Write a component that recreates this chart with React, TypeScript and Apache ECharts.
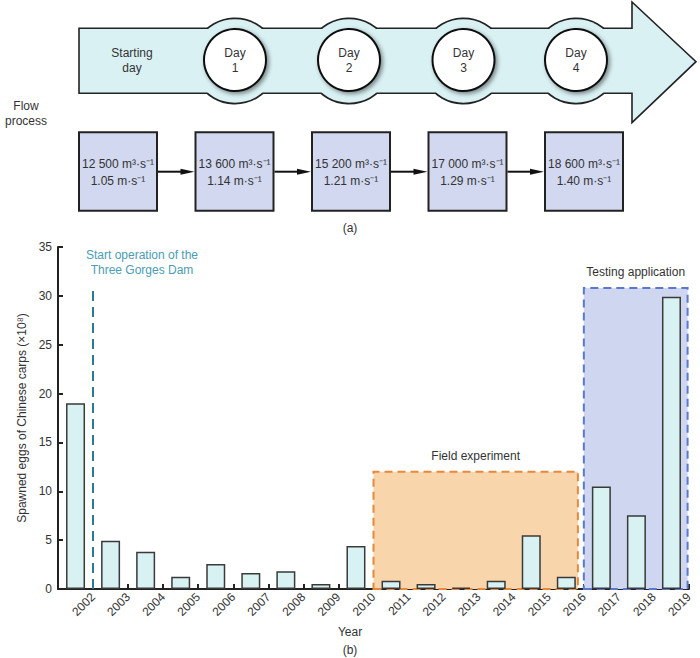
import React, { useEffect, useRef } from "react";
import * as echarts from "echarts";

// ---- data ----
const years = [2002, 2003, 2004, 2005, 2006, 2007, 2008, 2009, 2010, 2011, 2012, 2013, 2014, 2015, 2016, 2017, 2018, 2019];
const eggs = [19.0, 4.95, 3.8, 1.26, 2.56, 1.64, 1.81, 0.51, 4.4, 0.85, 0.5, 0.13, 0.85, 5.5, 1.26, 10.5, 7.55, 29.9];
const dayLabels = ["Starting\nday", "Day\n1", "Day\n2", "Day\n3", "Day\n4"];
const discharges = ["12 500", "13 600", "15 200", "17 000", "18 600"];
const velocities = ["1.05", "1.14", "1.21", "1.29", "1.40"];
const damYear = 2002;
const fieldPeriod = [2010, 2015.83];
const fieldTop = 12;
const testPeriod = [2016, 2018.96];
const testTop = 30.8;

const FONT = "'Liberation Sans', Arial, Helvetica, sans-serif";
const TXT = "#333";

function txt(text: string, x: number, y: number, extra: any = {}) {
  return {
    type: "text",
    z: 100,
    style: {
      text,
      x,
      y,
      fill: extra.fill || TXT,
      fontSize: extra.fontSize || 12,
      fontFamily: FONT,
      lineHeight: extra.lineHeight || 15,
      align: "center",
      verticalAlign: "middle",
      textAlign: "center",
      textVerticalAlign: "middle",
    },
  };
}

function buildGraphic() {
  const g: any[] = [];
  const cy = 61;
  const haloR = 42;
  const circR = 31;
  const circX = [235, 349, 463.5, 576];
  const cyan = "#d9f1f3";
  const dark = "#222";
  // halos with stroke
  circX.forEach((cx) => {
    g.push({ type: "circle", z: 10, shape: { cx, cy, r: haloR }, style: { fill: cyan, stroke: dark, lineWidth: 3 } });
  });
  // arrow body + head
  g.push({
    type: "polygon",
    z: 11,
    shape: {
      points: [
        [79, 28.3], [632, 28.3], [632, 2], [696, 61.7], [632, 122.7], [632, 93.3], [79, 93.3],
      ],
    },
    style: { fill: cyan, stroke: dark, lineWidth: 1.6 },
  });
  // halos fill only (hide body edge inside halo)
  circX.forEach((cx) => {
    g.push({ type: "circle", z: 12, shape: { cx, cy, r: haloR - 0.2 }, style: { fill: cyan } });
  });
  // white day circles
  circX.forEach((cx) => {
    g.push({
      type: "circle",
      z: 13,
      shape: { cx, cy: 60, r: circR },
      style: {
        fill: "#fff",
        stroke: "#111",
        lineWidth: 2,
        shadowBlur: 4,
        shadowOffsetX: 2,
        shadowOffsetY: 2,
        shadowColor: "rgba(0,0,0,0.45)",
      },
    });
  });
  const textX = [132, ...circX];
  dayLabels.forEach((d, i) => g.push(txt(d, textX[i], 60.5)));
  g.push(txt("Flow\nprocess", 26, 113.5));

  // flow boxes
  const boxX0 = 79;
  const boxStep = 116.5;
  const boxW = 78;
  const boxTop = 132.3;
  const boxH = 78.4;
  discharges.forEach((q, i) => {
    const bx = boxX0 + i * boxStep;
    g.push({
      type: "rect",
      z: 20,
      shape: { x: bx, y: boxTop, width: boxW, height: boxH },
      style: { fill: "#d1d8ef", stroke: "#222", lineWidth: 2 },
    });
    g.push(txt(q + " m³·s⁻¹", bx + boxW / 2, 163.5));
    g.push(txt(velocities[i] + " m·s⁻¹", bx + boxW / 2, 181));
    if (i < discharges.length - 1) {
      const x1 = bx + boxW + 1;
      const x2 = boxX0 + (i + 1) * boxStep - 1;
      const ay = 171.7;
      g.push({ type: "line", z: 20, shape: { x1, y1: ay, x2: x2 - 8, y2: ay }, style: { stroke: "#111", lineWidth: 2 } });
      g.push({
        type: "polygon",
        z: 20,
        shape: { points: [[x2 - 14, ay - 3], [x2, ay], [x2 - 14, ay + 3]] },
        style: { fill: "#111" },
      });
    }
  });
  g.push(txt("(a)", 350, 227.5));

  // chart annotations
  g.push(txt("Start operation of the\nThree Gorges Dam", 142, 262.5, { fill: "#4a9db3" }));
  g.push(txt("Year", 350, 632));
  g.push(txt("(b)", 350, 650));
  return g;
}

export default function App() {
  const ref = useRef<HTMLDivElement>(null);
  useEffect(() => {
    if (!ref.current) return;
    const chart = echarts.init(ref.current, null, { renderer: "svg" });
    const axisColor = "#222";
    chart.setOption({
      animation: false,
      textStyle: { fontFamily: FONT },
      grid: { left: 58, right: 11, top: 247, bottom: 69 },
      xAxis: {
        type: "value",
        min: 2001,
        max: 2019,
        interval: 1,
        splitLine: { show: false },
        axisLine: { show: true, onZero: false, lineStyle: { color: axisColor, width: 2 } },
        axisTick: { show: true, inside: true, length: 5, lineStyle: { color: axisColor, width: 2 } },
        axisLabel: {
          rotate: 45,
          margin: 6,
          color: TXT,
          fontSize: 12,
          fontFamily: FONT,
          formatter: (v: number) => (v === 2001 ? "" : String(v)),
        },
      },
      yAxis: {
        type: "value",
        min: 0,
        max: 35,
        interval: 5,
        name: "Spawned eggs of Chinese carps (×10⁸)",
        nameLocation: "middle",
        nameGap: 25,
        nameTextStyle: { color: TXT, fontSize: 12, fontFamily: FONT },
        splitLine: { show: false },
        axisLine: { show: true, lineStyle: { color: axisColor, width: 2 } },
        axisTick: { show: true, inside: true, length: 5, lineStyle: { color: axisColor, width: 2 } },
        axisLabel: { color: TXT, fontSize: 12, margin: 6, fontFamily: FONT },
      },
      series: [
        {
          type: "bar",
          z: 3,
          barWidth: 19,
          data: years.map((y, i) => [y - 0.5, eggs[i]]),
          itemStyle: { color: "#d8f1f3", borderColor: "#3a3a3a", borderWidth: 1.5 },
          markLine: {
            silent: true,
            symbol: ["none", "none"],
            label: { show: false },
            lineStyle: { color: "#2e7a8e", width: 2, type: [10, 6] },
            data: [[{ coord: [damYear, 0] }, { coord: [damYear, 30.5] }]],
          },
          markArea: {
            silent: true,
            z: 1,
            label: { show: true, position: "top", color: TXT, fontSize: 12, distance: 9, fontFamily: FONT },
            data: [
              [
                {
                  name: "Field experiment",
                  coord: [fieldPeriod[0], fieldTop],
                  itemStyle: { color: "#f9d5ab", borderColor: "#e8883a", borderWidth: 2, borderType: [8, 5] },
                },
                { coord: [fieldPeriod[1], 0] },
              ],
              [
                {
                  name: "Testing application",
                  coord: [testPeriod[0], testTop],
                  itemStyle: { color: "#cfd6f0", borderColor: "#5a78cf", borderWidth: 2, borderType: [8, 5] },
                },
                { coord: [testPeriod[1], 0] },
              ],
            ],
          },
        },
      ],
      graphic: buildGraphic(),
    });
    return () => chart.dispose();
  }, []);
  return <div ref={ref} style={{ position: "fixed", left: 0, top: 0, width: 700, height: 658, background: "#fff" }} />;
}
